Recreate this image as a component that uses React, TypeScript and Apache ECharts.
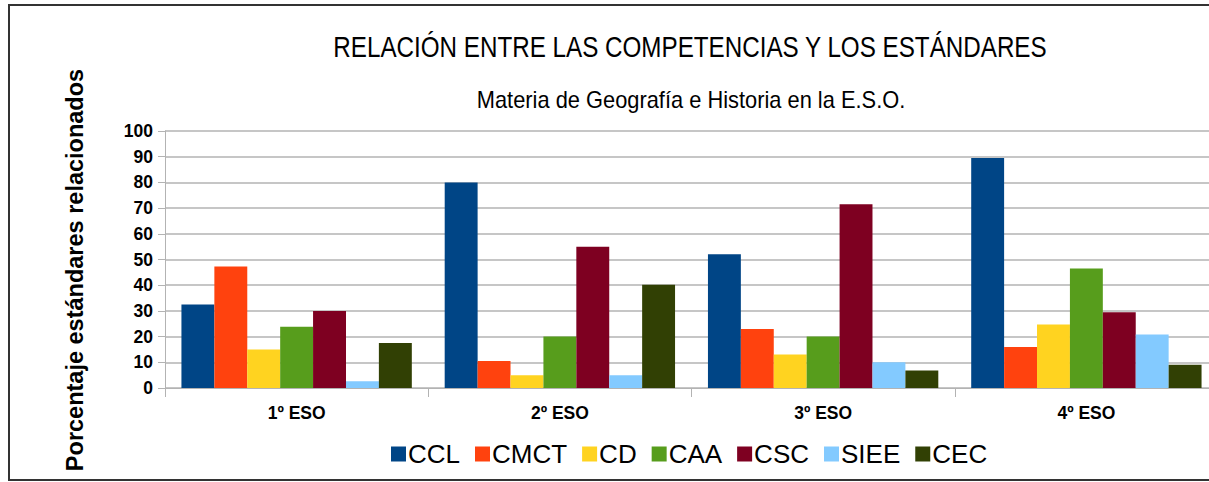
import React, { useEffect, useRef } from "react";
import * as echarts from "echarts";

const categories = ["1º ESO", "2º ESO", "3º ESO", "4º ESO"];
const seriesNames = ["CCL", "CMCT", "CD", "CAA", "CSC", "SIEE", "CEC"];
const colors = ["#004586", "#ff420e", "#ffd320", "#579d1c", "#7e0021", "#83caff", "#314004"];
const CCL = [32.5, 80, 52, 89.5];
const CMCT = [47.3, 10.5, 23, 16];
const CD = [15, 5, 13, 24.7];
const CAA = [23.8, 20, 20, 46.5];
const CSC = [30, 55, 71.5, 29.5];
const SIEE = [2.6, 5, 10, 20.8];
const CEC = [17.5, 40.2, 6.8, 9];
const seriesData = [CCL, CMCT, CD, CAA, CSC, SIEE, CEC];
const yTicks = { min: 0, max: 100, interval: 10 };

const SANS = "'Liberation Sans', Arial, sans-serif";

export default function App() {
  const ref = useRef<HTMLDivElement>(null);
  useEffect(() => {
    document.body.style.margin = "0";
    const chart = echarts.init(ref.current!, null, { renderer: "svg" });
    chart.setOption({
      animation: false,
      backgroundColor: "#ffffff",
      graphic: [
        {
          type: "rect",
          shape: { x: 9, y: 5, width: 1300, height: 475 },
          style: { fill: "none", stroke: "#333", lineWidth: 2 },
          z: 100,
        },
        {
          type: "text",
          x: 690,
          y: 47,
          scaleX: 0.835,
          style: {
            text: "RELACIÓN ENTRE LAS COMPETENCIAS Y LOS ESTÁNDARES",
            fontFamily: SANS,
            fontSize: 29,
            fill: "#000",
            align: "center",
            verticalAlign: "middle",
          },
        },
        {
          type: "text",
          x: 691,
          y: 100,
          scaleX: 0.95,
          style: {
            text: "Materia de Geografía e Historia en la E.S.O.",
            fontFamily: SANS,
            fontSize: 23,
            fill: "#000",
            align: "center",
            verticalAlign: "middle",
          },
        },
        {
          type: "text",
          x: 75,
          y: 270,
          rotation: Math.PI / 2,
          style: {
            text: "Porcentaje estándares relacionados",
            fontFamily: SANS,
            fontSize: 23.5,
            fontWeight: "bold",
            fill: "#000",
            align: "center",
            verticalAlign: "middle",
          },
        },
      ],
      legend: {
        data: seriesNames,
        left: 386,
        top: 436,
        itemWidth: 15,
        itemHeight: 15,
        itemGap: 15,
        icon: "rect",
        textStyle: { fontFamily: SANS, fontSize: 26, color: "#000", padding: [0, 0, 0, -3] },
      },
      grid: { left: 165, right: 12, top: 131, bottom: 94 },
      xAxis: {
        type: "category",
        data: categories,
        axisLine: { lineStyle: { color: "#b3b3b3" } },
        axisTick: { show: true, length: 9, alignWithLabel: false, lineStyle: { color: "#b3b3b3" } },
        axisLabel: { fontFamily: SANS, fontSize: 17.5, fontWeight: "bold", color: "#000", margin: 16 },
      },
      yAxis: {
        type: "value",
        min: yTicks.min,
        max: yTicks.max,
        interval: yTicks.interval,
        axisLine: { show: true, lineStyle: { color: "#b3b3b3" } },
        axisTick: { show: true, length: 7, lineStyle: { color: "#b3b3b3" } },
        splitLine: { lineStyle: { color: "#b3b3b3", width: 1.5 } },
        axisLabel: { fontFamily: SANS, fontSize: 17.5, fontWeight: "bold", color: "#000", margin: 12 },
      },
      series: seriesNames.map((name, i) => ({
        name,
        type: "bar",
        data: seriesData[i],
        itemStyle: { color: colors[i] },
        barGap: "0%",
        barCategoryGap: "12.5%",
      })),
    });
    return () => chart.dispose();
  }, []);
  return (
    <div style={{ position: "absolute", left: 0, top: 0, width: 1209, height: 482, overflow: "hidden" }}>
      <div ref={ref} style={{ width: 1230, height: 482 }} />
    </div>
  );
}
